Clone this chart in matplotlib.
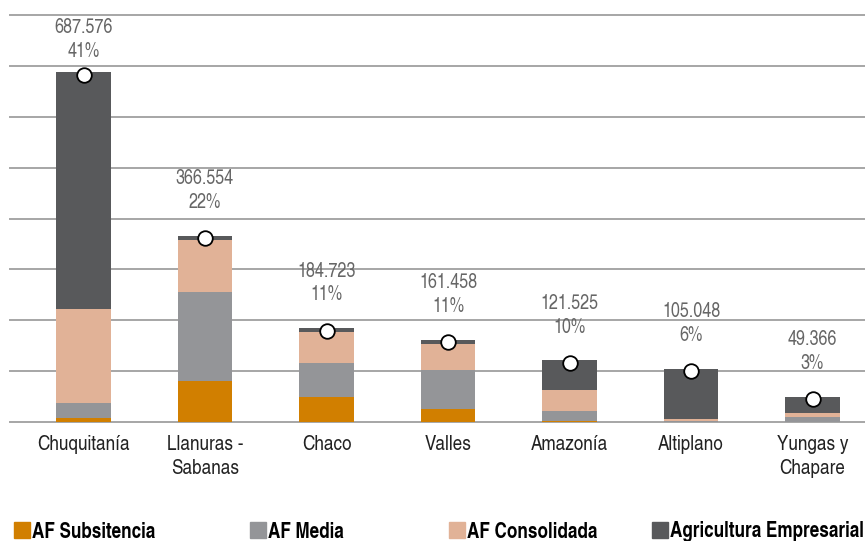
import matplotlib
matplotlib.use("Agg")
import matplotlib.pyplot as plt
from matplotlib.patches import Rectangle
import numpy as np

plt.rcParams['font.family'] = ['TeX Gyre Heros Cn', 'Liberation Sans Narrow', 'DejaVu Sans']

# Datos (miles)
regiones = ["Chuquitanía", "Llanuras -\nSabanas", "Chaco", "Valles",
            "Amazonía", "Altiplano", "Yungas y\nChapare"]
af_subsistencia = [8.5, 80.5, 50.0, 25.0, 1.5, 0.5, 0.5]
af_media = [28.8, 175.0, 66.0, 77.0, 20.0, 0.5, 8.5]
af_consolidada = [185.0, 102.0, 61.0, 52.0, 41.3, 5.0, 8.0]
totales = [687.576, 366.554, 184.723, 161.458, 121.525, 105.048, 49.366]
porcentajes = ["41%", "22%", "11%", "11%", "10%", "6%", "3%"]
etiquetas_total = ["687.576", "366.554", "184.723", "161.458", "121.525", "105.048", "49.366"]

agric_empresarial = [t - a - b - c for t, a, b, c in
                     zip(totales, af_subsistencia, af_media, af_consolidada)]

series = ["AF Subsitencia", "AF Media", "AF Consolidada", "Agricultura Empresarial"]
colores = ["#D17F00", "#949598", "#E1B297", "#58595B"]

fig = plt.figure(figsize=(8.65, 5.41), dpi=100)
ax = fig.add_axes([10 / 865, 119 / 541, 855 / 865, 407 / 541])

x = np.arange(len(regiones))
ancho = 0.45
base = np.zeros(len(regiones))
for valores, color in zip([af_subsistencia, af_media, af_consolidada, agric_empresarial], colores):
    ax.bar(x, valores, ancho, bottom=base, color=color, zorder=2)
    base += np.array(valores)

# circulos de total, un poco por debajo del borde superior
ax.plot(x, np.array(totales) - 5, linestyle="none", marker="o", markersize=10.5,
        markerfacecolor="white", markeredgecolor="black", markeredgewidth=1.3, zorder=4)

for i, t in enumerate(totales):
    y_val = min(t + 112, 776)
    ax.text(x[i], y_val, etiquetas_total[i], ha="center", va="center",
            fontsize=14.2, color="#666666")
    ax.text(x[i], y_val - 47, porcentajes[i], ha="center", va="center",
            fontsize=14.2, color="#666666")

ax.set_xlim(-0.605, 6.432)
ax.set_ylim(0, 800)
ax.set_yticks(np.arange(0, 801, 100))
ax.yaxis.grid(True, color="#A6A6A6", linewidth=1.4, zorder=0)
for linea in ax.get_ygridlines():
    linea.set_clip_on(False)
ax.set_axisbelow(True)
ax.tick_params(axis="y", left=False, labelleft=False)
ax.set_xticks(x)
ax.set_xticklabels(regiones, fontsize=15, color="#222222", linespacing=1.35)
ax.tick_params(axis="x", length=0, pad=9.5)
for s in ax.spines.values():
    s.set_visible(False)

# Leyenda manual
pos_ley = [14, 250, 449, 652]
for nombre, color, px in zip(series, colores, pos_ley):
    fig.patches.append(Rectangle((px / 865, 3 / 541), 16 / 865, 16 / 541,
                                 transform=fig.transFigure, color=color))
    fig.text((px + 18) / 865, 9 / 541, nombre, ha="left", va="center",
             fontsize=15, fontweight="bold", color="black")

plt.savefig("out.png", dpi=100)
